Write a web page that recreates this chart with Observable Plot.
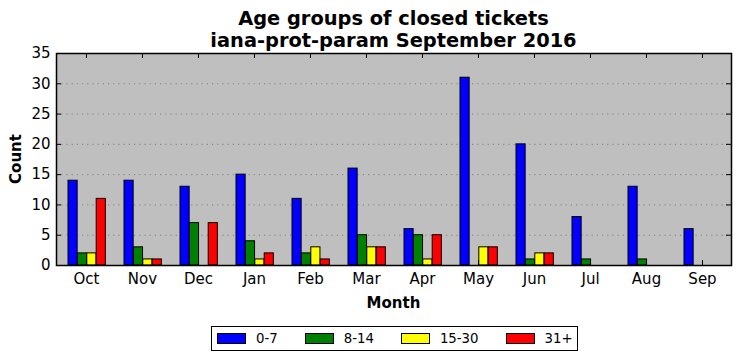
<!DOCTYPE html>
<html>
<head>
<meta charset="utf-8">
<script src="https://cdn.jsdelivr.net/npm/d3@7"></script>
<script src="https://cdn.jsdelivr.net/npm/@observablehq/plot@0.6"></script>
<style>
  html, body { margin: 0; padding: 0; background: #fff; }
  #wrap { position: relative; width: 741px; height: 361px; font-family: "DejaVu Sans", sans-serif; color: #000; }
  #wrap svg { position: absolute; left: 0; top: 0; }
  .title { position: absolute; left: 56px; width: 675px; top: 8px; text-align: center; font-weight: bold; font-size: 19.4px; line-height: 22px; white-space: nowrap; }
  .ylab { position: absolute; left: 16px; top: 159px; transform: translate(-50%, -50%) rotate(-90deg); font-weight: bold; font-size: 15px; white-space: nowrap; }
  .xlab { position: absolute; left: 393.5px; top: 303px; transform: translate(-50%, -50%); font-weight: bold; font-size: 15px; white-space: nowrap; }
  .legend { position: absolute; left: 211px; top: 326px; width: 360px; height: 23px; border: 1px solid #000; background: #fff; display: flex; align-items: center; padding-left: 5px; box-sizing: content-box; font-size: 13.3px; white-space: nowrap; }
  .legend .item { display: flex; align-items: center; margin-right: 27px; flex-shrink: 0; white-space: nowrap; }
  .legend .sw { width: 27px; height: 9px; border: 1px solid #000; margin-right: 10px; flex-shrink: 0; }
</style>
</head>
<body>
<div id="wrap"></div>
<script>
const months = ["Oct", "Nov", "Dec", "Jan", "Feb", "Mar", "Apr", "May", "Jun", "Jul", "Aug", "Sep"];
const age0_7   = [14, 14, 13, 15, 11, 16, 6, 31, 20, 8, 13, 6];
const age8_14  = [2, 3, 7, 4, 2, 5, 5, 0, 1, 1, 1, 0];
const age15_30 = [2, 1, 0, 1, 3, 3, 1, 3, 2, 0, 0, 0];
const age31p   = [11, 1, 7, 2, 1, 3, 5, 3, 2, 0, 0, 0];
const groups = ["0-7", "8-14", "15-30", "31+"];
const colors = ["#0000ff", "#008000", "#ffff00", "#ff0000"];
const yTicks = [0, 5, 10, 15, 20, 25, 30, 35];
const titleLines = ["Age groups of closed tickets", "iana-prot-param September 2016"];

const series = [age0_7, age8_14, age15_30, age31p];

const W = 741, H = 361;
const mL = 56, mR = 10, mT = 53, mB = 96;
const plotW = W - mL - mR, plotH = H - mT - mB;
const step = plotW / months.length;
const barW = 9.4, groupOffset = 10, tickLen = 5;

const barMarks = series.map((vals, k) => {
  const rows = months.map((m, i) => ({month: m, value: vals[i]}));
  const left = groupOffset + barW * k;
  return Plot.barY(rows, {
    x: "month", y: "value",
    fill: colors[k], stroke: "#000", strokeWidth: 1,
    insetLeft: left, insetRight: step - left - barW
  });
});

const chart = Plot.plot({
  width: W, height: H,
  marginLeft: mL, marginRight: mR, marginTop: mT, marginBottom: mB,
  style: {fontFamily: "DejaVu Sans", fontSize: "15px", color: "#000", background: "transparent", overflow: "visible"},
  x: {domain: months, padding: 0, tickSize: 0, tickPadding: 8, label: null},
  y: {domain: [0, 35], ticks: yTicks, tickSize: 0, tickPadding: 6, label: null},
  marks: [
    Plot.frame({fill: "#bfbfbf", stroke: null}),
    Plot.ruleY(yTicks.slice(1, -1), {y: d => d, stroke: "#7f7f7f", strokeWidth: 1, strokeDasharray: "1.2,4"}),
    ...barMarks,
    Plot.frame({stroke: "#000", strokeWidth: 1.5}),
    Plot.ruleY(yTicks, {y: d => d, stroke: "#000", insetRight: plotW - tickLen}),
    Plot.ruleY(yTicks, {y: d => d, stroke: "#000", insetLeft: plotW - tickLen}),
    Plot.ruleX(months, {x: d => d, stroke: "#000", insetBottom: plotH - tickLen}),
    Plot.ruleX(months, {x: d => d, stroke: "#000", insetTop: plotH - tickLen})
  ]
});

const wrap = document.getElementById("wrap");
wrap.appendChild(chart);

const title = document.createElement("div");
title.className = "title";
title.innerHTML = titleLines.map(t => `<div>${t}</div>`).join("");
wrap.appendChild(title);

const ylab = document.createElement("div");
ylab.className = "ylab"; ylab.textContent = "Count";
wrap.appendChild(ylab);

const xlab = document.createElement("div");
xlab.className = "xlab"; xlab.textContent = "Month";
wrap.appendChild(xlab);

const legend = document.createElement("div");
legend.className = "legend";
groups.forEach((g, k) => {
  const item = document.createElement("div");
  item.className = "item";
  const sw = document.createElement("div");
  sw.className = "sw"; sw.style.background = colors[k];
  const lab = document.createElement("span");
  lab.textContent = g;
  item.appendChild(sw); item.appendChild(lab);
  legend.appendChild(item);
});
wrap.appendChild(legend);
</script>
</body>
</html>
